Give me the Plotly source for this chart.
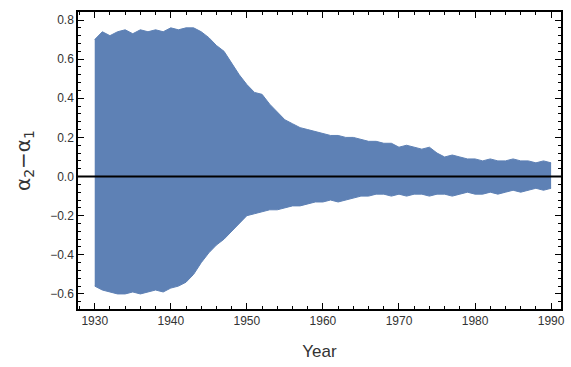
import plotly.graph_objects as go

years = list(range(1930, 1991))
upper = [0.70, 0.74, 0.72, 0.74, 0.75, 0.73, 0.75, 0.74, 0.75, 0.74,
         0.76, 0.75, 0.76, 0.76, 0.74, 0.71, 0.67, 0.64, 0.58, 0.52,
         0.47, 0.43, 0.42, 0.37, 0.33, 0.29, 0.27, 0.25, 0.24, 0.23,
         0.22, 0.21, 0.21, 0.20, 0.20, 0.19, 0.18, 0.18, 0.17, 0.17,
         0.15, 0.16, 0.15, 0.14, 0.15, 0.12, 0.10, 0.11, 0.10, 0.09,
         0.09, 0.08, 0.09, 0.08, 0.08, 0.09, 0.08, 0.08, 0.07, 0.08, 0.07]
lower = [-0.56, -0.58, -0.59, -0.60, -0.60, -0.59, -0.60, -0.59, -0.58, -0.59,
         -0.57, -0.56, -0.54, -0.50, -0.44, -0.39, -0.35, -0.32, -0.28, -0.24,
         -0.20, -0.19, -0.18, -0.17, -0.17, -0.16, -0.15, -0.15, -0.14, -0.13,
         -0.13, -0.12, -0.13, -0.12, -0.11, -0.10, -0.10, -0.09, -0.09, -0.10,
         -0.09, -0.10, -0.09, -0.09, -0.10, -0.09, -0.09, -0.10, -0.09, -0.08,
         -0.09, -0.09, -0.08, -0.09, -0.08, -0.07, -0.08, -0.07, -0.06, -0.07, -0.06]

x_range = [1927.8, 1991.3]
y_range = [-0.677, 0.841]
x_ticks = [1930, 1940, 1950, 1960, 1970, 1980, 1990]
y_ticks = [-0.6, -0.4, -0.2, 0.0, 0.2, 0.4, 0.6, 0.8]

color = "#5E81B5"

fig = go.Figure()
fig.add_trace(go.Scatter(x=years, y=upper, mode="lines", line=dict(color=color, width=1),
                         hoverinfo="skip", showlegend=False))
fig.add_trace(go.Scatter(x=years, y=lower, mode="lines", line=dict(color=color, width=1),
                         fill="tonexty", fillcolor=color, hoverinfo="skip", showlegend=False))
# zero line
fig.add_trace(go.Scatter(x=x_range, y=[0, 0], mode="lines", line=dict(color="black", width=2),
                         hoverinfo="skip", showlegend=False))

axis_common = dict(showgrid=False, zeroline=False, showline=True, linecolor="black", linewidth=1.5,
                   mirror="allticks", ticks="inside", tickcolor="black", tickwidth=1.2,
                   automargin=False,
                   tickfont=dict(family="Liberation Sans, Arial", size=12, color="#333333"))

fig.update_xaxes(range=x_range, tickvals=x_ticks, ticklen=6,
                 minor=dict(ticks="inside", dtick=2, tick0=1930, ticklen=3, tickcolor="black", tickwidth=1),
                 title=dict(text="Year", font=dict(family="Liberation Sans, Arial", size=17, color="#333333"),
                            standoff=18),
                 **axis_common)
fig.update_yaxes(range=y_range, tickvals=y_ticks, tickformat=".1f", ticklen=6,
                 minor=dict(ticks="inside", dtick=0.04, tick0=0, ticklen=3, tickcolor="black", tickwidth=1),
                 title=dict(text="α<sub>2</sub>−α<sub>1</sub>",
                            font=dict(family="DejaVu Sans, Liberation Sans", size=20, color="#333333"),
                            standoff=14),
                 **axis_common)

fig.update_layout(width=571, height=367, margin=dict(l=78, r=10, t=12, b=58),
                  plot_bgcolor="white", paper_bgcolor="white")

fig.write_html("out.html", config={"displayModeBar": False},
               post_script="document.body.style.margin='0';")
